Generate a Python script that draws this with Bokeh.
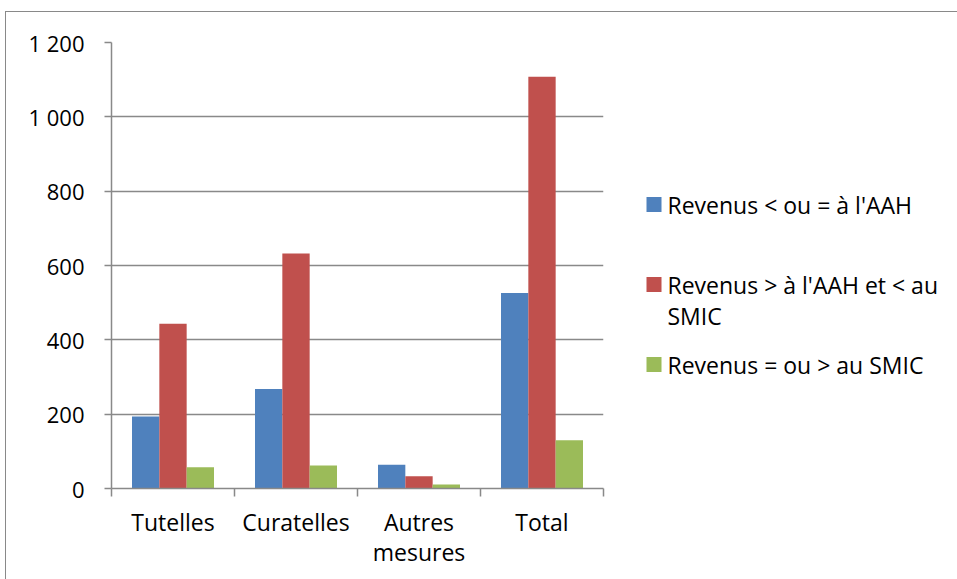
from bokeh.plotting import figure
from bokeh.layouts import row
from bokeh.models import Range1d, FixedTicker, InlineStyleSheet
from bokeh.core.properties import value
from bokeh.embed import file_html
from bokeh.resources import INLINE

# ---- data ----
categories = ["Tutelles", "Curatelles", "Autres\nmesures", "Total"]
series_names = ["Revenus < ou = à l'AAH",
                "Revenus > à l'AAH et < au SMIC",
                "Revenus = ou > au SMIC"]
legend_lines = [["Revenus < ou = à l'AAH"],
                ["Revenus > à l'AAH et < au", "SMIC"],
                ["Revenus = ou > au SMIC"]]
rev_le_aah = [194, 268, 64, 526]
rev_aah_smic = [443, 632, 33, 1108]
rev_ge_smic = [57, 62, 11, 130]
series_values = [rev_le_aah, rev_aah_smic, rev_ge_smic]
colors = ["#4F81BD", "#C0504D", "#9BBB59"]
y_ticks = [0, 200, 400, 600, 800, 1000, 1200]
y_tick_labels = ["0", "200", "400", "600", "800", "1 000", "1 200"]

# ---- layout ----
W, H = 957, 579
FONT = "Open Sans"
GRAY = "#898989"
MAIN_W = 620
TOP, BOTTOM = 42, 488

p = figure(width=MAIN_W, height=H, x_range=Range1d(0, len(categories)),
           y_range=Range1d(0, 1200), output_backend="svg",
           toolbar_location=None,
           min_border_left=111, min_border_right=MAIN_W - 603,
           min_border_top=TOP, min_border_bottom=H - BOTTOM)
p.outline_line_color = None
p.background_fill_color = "white"
p.border_fill_color = "white"

n_series = len(series_values)
bw = 1.0 / (n_series + 1.5)
for k, vals in enumerate(series_values):
    xs = [i + 0.5 + (k - (n_series - 1) / 2) * bw for i in range(len(categories))]
    p.vbar(x=xs, top=vals, width=bw, bottom=0, fill_color=colors[k],
           line_color=None)

# y axis
p.yaxis.ticker = FixedTicker(ticks=y_ticks)
p.yaxis.major_label_overrides = {t: l for t, l in zip(y_ticks, y_tick_labels)}
p.yaxis.major_tick_out = 7
p.yaxis.major_tick_in = 0
p.yaxis.minor_tick_out = 0
p.yaxis.minor_tick_in = 0
p.yaxis.axis_line_color = GRAY
p.yaxis.major_tick_line_color = GRAY
p.yaxis.axis_line_width = 1.5
p.yaxis.major_tick_line_width = 1.5
p.yaxis.major_label_text_font = FONT
p.yaxis.major_label_text_font_size = "22px"
p.yaxis.major_label_text_color = "black"
p.yaxis.major_label_standoff = 20

# x axis
centers = [i + 0.5 for i in range(len(categories))]
p.xaxis.ticker = FixedTicker(ticks=centers,
                             minor_ticks=list(range(len(categories) + 1)))
p.xaxis.major_label_overrides = {c: l for c, l in zip(centers, categories)}
p.xaxis.major_tick_out = 0
p.xaxis.major_tick_in = 0
p.xaxis.minor_tick_out = 8
p.xaxis.minor_tick_in = 0
p.xaxis.axis_line_color = GRAY
p.xaxis.minor_tick_line_color = GRAY
p.xaxis.axis_line_width = 1.5
p.xaxis.minor_tick_line_width = 1.5
p.xaxis.major_label_text_font = FONT
p.xaxis.major_label_text_font_size = "23px"
p.xaxis.major_label_text_line_height = 0.96
p.xaxis.major_label_text_color = "black"
p.xaxis.major_label_standoff = 9

p.xgrid.grid_line_color = None
p.ygrid.ticker = FixedTicker(ticks=y_ticks)
p.ygrid.grid_line_color = GRAY
p.ygrid.grid_line_width = 1.5

# ---- legend panel (frame aligned with the main frame; page pixel coords) ----
lg = figure(width=W - MAIN_W, height=H, x_range=Range1d(MAIN_W, W),
            y_range=Range1d(BOTTOM, TOP), output_backend="svg",
            toolbar_location=None, x_axis_location=None, y_axis_location=None,
            min_border_left=0, min_border_right=0,
            min_border_top=TOP, min_border_bottom=H - BOTTOM)
lg.grid.visible = False
lg.outline_line_color = None
lg.background_fill_color = "white"
lg.border_fill_color = "white"

item_rows = [204, 284, 364]
line_gap = 31
sq = 15
for k, lines in enumerate(legend_lines):
    yc = item_rows[k]
    lg.rect(x=[646 + sq / 2], y=[yc], width=sq, height=sq,
            fill_color=colors[k], line_color=None)
    lg.text(x=[667] * len(lines), y=[yc + j * line_gap for j in range(len(lines))],
            text=lines, text_font=value(FONT), text_font_size="23px",
            text_baseline="middle", text_align="left", text_color="black")

layout = row(p, lg, spacing=0)
layout.stylesheets = [InlineStyleSheet(css="""
:host { position: relative; }
:host::after { content: ""; position: absolute; left: 5px; top: 11px;
  right: 0; bottom: 0; border-left: 1.5px solid #898989;
  border-top: 1.5px solid #898989; pointer-events: none; z-index: 10; }
""")]

open("out.html", "w").write(file_html(layout, INLINE))
